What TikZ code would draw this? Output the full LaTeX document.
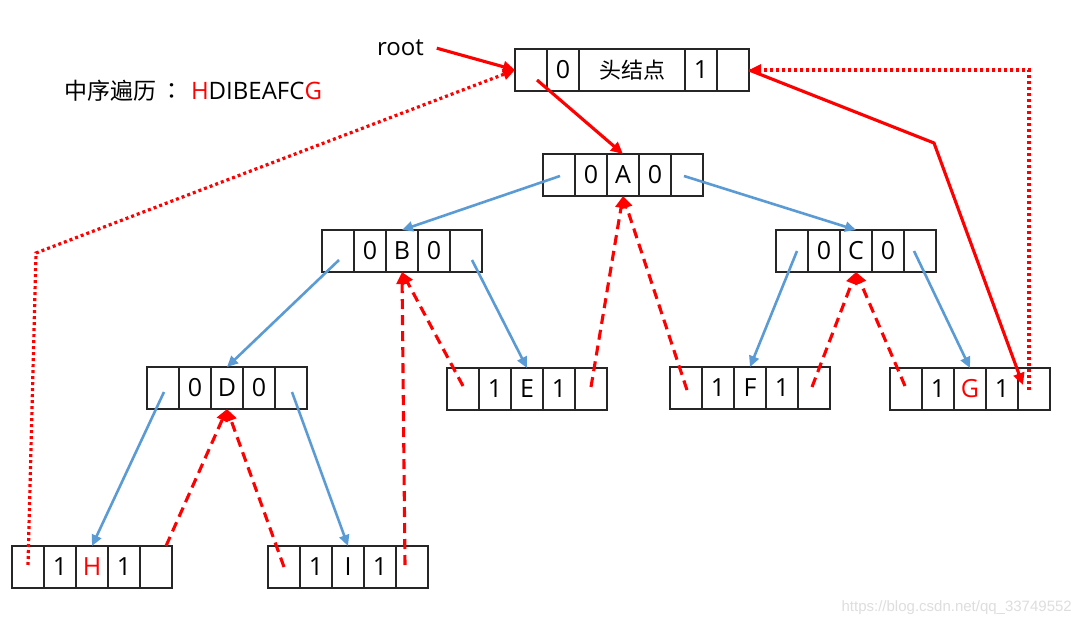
\documentclass[tikz,border=0pt]{standalone}
\usepackage{fontspec}
\setmainfont{Open Sans}
\newfontfamily\cjk{Noto Sans CJK SC}
\newfontfamily\cjktc{Noto Sans CJK TC}
\newfontfamily\wmfont{Liberation Sans}
\usetikzlibrary{arrows.meta}
\definecolor{tblue}{HTML}{5B9BD5}
\definecolor{tred}{HTML}{FF0000}
\tikzset{
  cell/.style={draw=black!85, line width=1.4pt, minimum width=32pt, minimum height=42pt,
    inner sep=0pt, outer sep=0pt, font=\fontsize{25}{25}\selectfont},
  lbl/.style={inner sep=0pt, outer sep=0pt, font=\fontsize{24}{24}\selectfont},
  bl/.style={draw=tblue, line width=2.6pt, -{Triangle[length=11pt,width=10pt]}},
  rs/.style={draw=tred, line width=3.1pt, -{Triangle[length=12pt,width=11pt]}},
  rd/.style={rs, dash pattern=on 10pt off 6pt},
  rdot/.style={draw=tred, line width=3.2pt, dash pattern=on 3pt off 3pt, -{Triangle[length=12pt,width=11pt]}}
}
\newcommand\trnode[6]{%
  \node[cell] (#1l) at (#2+16,#3+21) {};
  \node[cell] (#1lt) at (#2+48,#3+21) {#4};
  \node[cell] (#1d) at (#2+80,#3+21) {#5};
  \node[cell] (#1rt) at (#2+112,#3+21) {#6};
  \node[cell] (#1r) at (#2+144,#3+21) {};
}
\begin{document}
\begin{tikzpicture}[x=1pt, y=-1pt]
\useasboundingbox[fill=white] (0,0) rectangle (1080,623);
% head node
\node[cell] (headl) at (531,70) {};
\node[cell] (headlt) at (563,70) {0};
\node[cell, minimum width=106pt] (headd) at (632,70) {\cjk\fontsize{22}{22}\selectfont 头结点};
\node[cell] (headrt) at (701,70) {1};
\node[cell] (headr) at (733,70) {};
% tree nodes
\trnode{A}{543}{154}{0}{A}{0}
\trnode{B}{322}{230}{0}{B}{0}
\trnode{C}{776}{230}{0}{C}{0}
\trnode{D}{147}{367}{0}{D}{0}
\trnode{E}{447}{368}{1}{E}{1}
\trnode{F}{670}{367}{1}{F}{1}
\trnode{G}{890}{368}{1}{\textcolor{tred}{G}}{1}
\trnode{H}{12}{546}{1}{\textcolor{tred}{H}}{1}
\trnode{I}{268}{546}{1}{I}{1}
% labels
\node[lbl, anchor=base west] (root) at (377,56) {root};
\node[lbl, anchor=base west] (trav) at (64,100) {{\cjk\fontsize{23}{23}\selectfont 中序遍历}\hspace{4pt}{\cjktc\fontsize{23}{23}\selectfont ：}\hspace{8pt}\textcolor{tred}{H}DIBEAFC\textcolor{tred}{G}};
\node[inner sep=0pt, anchor=base east, text=black!13, font=\wmfont\fontsize{15}{15}\selectfont] (wm) at (1072,611) {https://blog.csdn.net/qq\_33749552};
% child links
\draw[bl] ([shift={(1,1)}]Al.center) -- (Bd.north);
\draw[bl] ([shift={(-3,1)}]Ar.center) -- (Cd.north);
\draw[bl] ([shift={(1,9)}]Bl.center) -- (Dd.north);
\draw[bl] ([shift={(6,9)}]Br.center) -- (Ed.north);
\draw[bl] ([shift={(5,0)}]Cl.center) -- (Fd.north);
\draw[bl] ([shift={(-6,0)}]Cr.center) -- (Gd.north);
\draw[bl] ([shift={(1,4)}]Dl.center) -- (Hd.north);
\draw[bl] ([shift={(1,4)}]Dr.center) -- (Id.north);
% threads
\draw[rd] ([xshift=10pt]Hr.north) -- (Dd.south);
\draw[rd] (Il.center) -- (Dd.south);
\draw[rd] ([shift={(-7,-2)}]Ir.center) -- (Bd.south);
\draw[rd] ([shift={(0,-3)}]El.center) -- (Bd.south);
\draw[rd] ([shift={(0,-2)}]Er.center) -- (Ad.south);
\draw[rd] ([shift={(1,2)}]Fl.center) -- (Ad.south);
\draw[rd] ([shift={(-2,-1)}]Fr.center) -- (Cd.south);
\draw[rd] ([shift={(-1,-3)}]Gl.center) -- (Cd.south);
% head links
\coordinate (bendG) at (934,143);
\coordinate (bendH) at (36,253);
\draw[rs] ([xshift=13pt]root.east) -- (headl.west);
\draw[rs] ([shift={(6,10)}]headl.center) -- (Ad.north);
\draw[rs] (headr.east) -- (bendG) -- ([shift={(-11,-4)}]Gr.center);
\draw[rdot] ([shift={(-5,1)}]Gr.center) |- (headr.east);
\draw[rdot] ([shift={(0,-2)}]Hl.center) -- (bendH) -- (headl.west);
\end{tikzpicture}
\end{document}
